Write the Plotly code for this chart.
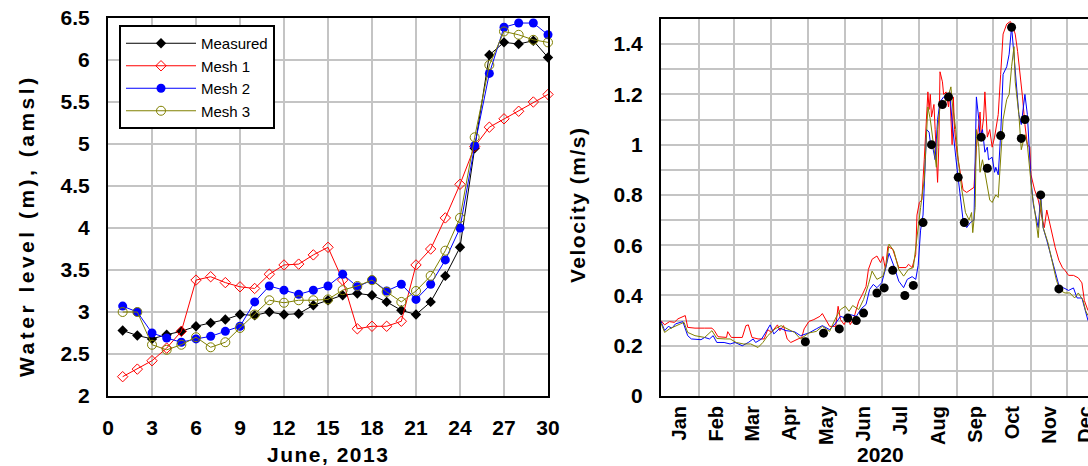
import pandas as pd
import plotly.graph_objects as go

# ---------------- Left panel: water level, June 2013 ----------------
june_days = list(range(1, 31))
measured_level = [2.78, 2.72, 2.68, 2.73, 2.77, 2.83, 2.87, 2.91, 2.97, 2.96,
                  3.00, 2.97, 2.98, 3.08, 3.14, 3.20, 3.22, 3.20, 3.12, 3.02,
                  2.97, 3.12, 3.43, 3.77, 4.95, 6.06, 6.21, 6.19, 6.23, 6.03]
mesh1_level = [2.23, 2.32, 2.42, 2.57, 2.77, 3.38, 3.42, 3.35, 3.30, 3.28,
               3.45, 3.56, 3.57, 3.68, 3.77, 3.38, 2.80, 2.83, 2.83, 2.89,
               3.56, 3.75, 4.12, 4.52, 4.97, 5.20, 5.30, 5.39, 5.50, 5.59]
mesh2_level = [3.07, 3.00, 2.75, 2.69, 2.64, 2.68, 2.71, 2.77, 2.83, 3.12,
               3.31, 3.26, 3.21, 3.26, 3.31, 3.45, 3.30, 3.38, 3.25, 3.33,
               3.15, 3.33, 3.62, 4.00, 4.98, 5.84, 6.39, 6.44, 6.44, 6.30]
mesh3_level = [3.00, 3.00, 2.61, 2.55, 2.61, 2.70, 2.58, 2.64, 2.81, 2.97,
               3.14, 3.11, 3.14, 3.14, 3.15, 3.26, 3.31, 3.38, 3.24, 3.12,
               3.25, 3.43, 3.73, 4.12, 5.08, 5.94, 6.34, 6.30, 6.24, 6.21]

# ---------------- Right panel: velocity, 2020 (day of year, m/s) ----------------
red_velocity = [
    (0, 0.30), (3, 0.283), (7, 0.296), (11, 0.293), (14, 0.307), (17, 0.313), (20, 0.32),
    (22, 0.273), (28, 0.27), (36, 0.27), (42, 0.27), (44, 0.26), (47, 0.236), (54, 0.233),
    (55, 0.256), (58, 0.233), (67, 0.233), (70, 0.28), (72, 0.283), (75, 0.233), (80, 0.227),
    (85, 0.227), (88, 0.264), (91, 0.253), (96, 0.283), (98, 0.26), (101, 0.28), (104, 0.227),
    (107, 0.213), (113, 0.227), (116, 0.233), (118, 0.267), (122, 0.297), (126, 0.304),
    (131, 0.317), (133, 0.328), (135, 0.311), (139, 0.277), (144, 0.277), (146, 0.357),
    (148, 0.304), (151, 0.284), (154, 0.317), (156, 0.284), (159, 0.311), (163, 0.377),
    (166, 0.404), (169, 0.435), (171, 0.504), (174, 0.544), (178, 0.557), (181, 0.531),
    (183, 0.555), (185, 0.504), (187, 0.595), (191, 0.584), (196, 0.511), (202, 0.511),
    (204, 0.524), (207, 0.511), (210, 0.564), (211, 0.72), (213, 0.77), (215, 0.78),
    (217, 0.94), (219, 1.14), (220, 1.21), (221, 1.14), (222, 1.20), (223, 1.11), (225, 1.16),
    (226, 1.06), (228, 0.85), (229, 0.99), (230, 1.29), (232, 1.25), (233, 1.20), (235, 1.21),
    (237, 1.15), (238, 1.21), (240, 1.00), (241, 1.19), (242, 1.06), (244, 0.97), (247, 0.87),
    (249, 0.82), (252, 0.81), (255, 0.82), (258, 0.83), (260, 0.99), (262, 1.07), (263, 1.13),
    (264, 1.03), (266, 1.11), (267, 1.21), (269, 1.03), (271, 1.06), (273, 0.99), (275, 1.03),
    (278, 1.12), (280, 1.28), (282, 1.44), (285, 1.48), (288, 1.49), (290, 1.47), (292, 1.44),
    (294, 1.37), (296, 1.29), (298, 1.19), (300, 1.08), (302, 1.00), (304, 0.99), (305, 0.88),
    (308, 0.82), (311, 0.78), (314, 0.71), (316, 0.67), (318, 0.74), (321, 0.67), (325, 0.59),
    (328, 0.54), (331, 0.51), (333, 0.50), (336, 0.48), (340, 0.48), (344, 0.47), (347, 0.45),
    (349, 0.38), (352, 0.34),
]
blue_velocity = [
    (0, 0.297), (3, 0.26), (6, 0.277), (9, 0.27), (12, 0.287), (16, 0.293), (18, 0.296),
    (22, 0.24), (25, 0.227), (33, 0.224), (36, 0.233), (40, 0.227), (43, 0.24), (46, 0.213),
    (52, 0.213), (57, 0.207), (61, 0.213), (67, 0.20), (72, 0.213), (76, 0.227), (78, 0.213),
    (83, 0.227), (87, 0.26), (90, 0.283), (93, 0.247), (98, 0.27), (103, 0.26), (110, 0.256),
    (115, 0.24), (118, 0.244), (122, 0.251), (128, 0.267), (133, 0.28), (139, 0.264),
    (144, 0.29), (148, 0.317), (152, 0.31), (156, 0.324), (161, 0.317), (165, 0.347),
    (169, 0.364), (172, 0.424), (175, 0.444), (178, 0.431), (182, 0.451), (185, 0.504),
    (188, 0.568), (192, 0.517), (196, 0.457), (200, 0.431), (203, 0.464), (207, 0.475),
    (210, 0.464), (212, 0.52), (214, 0.66), (216, 0.72), (218, 0.94), (219, 1.06), (221, 1.05),
    (222, 1.01), (224, 0.99), (225, 0.97), (226, 0.94), (228, 1.10), (230, 1.17), (233, 1.19),
    (236, 1.19), (238, 1.21), (240, 1.09), (243, 0.95), (245, 0.87), (247, 0.79), (249, 0.70),
    (252, 0.67), (255, 0.69), (258, 0.70), (259, 0.90), (260, 1.19), (262, 1.10), (263, 1.03),
    (265, 1.06), (267, 0.97), (269, 0.99), (270, 0.94), (273, 0.95), (275, 0.89), (276, 0.91),
    (278, 0.88), (280, 1.04), (282, 1.28), (285, 1.31), (287, 1.36), (289, 1.47), (291, 1.36),
    (293, 1.23), (295, 1.12), (297, 1.08), (300, 1.20), (302, 1.12), (303, 1.02), (305, 0.86),
    (307, 0.76), (310, 0.68), (311, 0.67), (313, 0.80), (315, 0.67), (318, 0.62), (322, 0.55),
    (325, 0.50), (328, 0.44), (332, 0.43), (336, 0.42), (340, 0.43), (343, 0.39), (347, 0.39),
    (350, 0.33), (352, 0.30),
]
olive_velocity = [
    (0, 0.29), (3, 0.253), (7, 0.267), (12, 0.28), (16, 0.287), (19, 0.293), (22, 0.253),
    (28, 0.24), (36, 0.233), (42, 0.26), (46, 0.229), (53, 0.227), (57, 0.227), (62, 0.213),
    (68, 0.207), (74, 0.207), (80, 0.193), (84, 0.213), (88, 0.24), (94, 0.267), (99, 0.28),
    (103, 0.27), (110, 0.253), (115, 0.227), (118, 0.237), (122, 0.251), (128, 0.257),
    (133, 0.277), (139, 0.257), (144, 0.31), (148, 0.344), (152, 0.357), (155, 0.337),
    (158, 0.36), (163, 0.344), (167, 0.384), (171, 0.444), (174, 0.497), (178, 0.464),
    (183, 0.477), (186, 0.531), (188, 0.604), (192, 0.577), (196, 0.504), (200, 0.477),
    (204, 0.504), (208, 0.511), (211, 0.637), (213, 0.72), (214, 0.75), (217, 0.86),
    (219, 1.03), (220, 1.15), (222, 1.10), (224, 1.03), (226, 0.95), (227, 0.91), (228, 1.06),
    (230, 1.15), (233, 1.17), (236, 1.18), (239, 1.23), (240, 1.17), (243, 1.06), (245, 0.94),
    (248, 0.82), (251, 0.73), (254, 0.70), (256, 0.73), (257, 0.65), (259, 0.75), (260, 1.06),
    (262, 0.99), (263, 0.89), (265, 0.94), (267, 0.89), (269, 0.83), (271, 0.78), (273, 0.77),
    (276, 0.80), (278, 0.79), (280, 0.96), (282, 1.10), (285, 1.18), (287, 1.20), (289, 1.31),
    (291, 1.39), (292, 1.25), (295, 1.12), (297, 0.98), (300, 1.04), (302, 1.00), (304, 0.90),
    (306, 0.80), (308, 0.74), (311, 0.63), (313, 0.78), (315, 0.67), (319, 0.61), (322, 0.55),
    (326, 0.46), (329, 0.42), (333, 0.41), (337, 0.41), (341, 0.39), (344, 0.41), (348, 0.38),
    (350, 0.34), (352, 0.32),
]
observed_velocity = [
    (119, 0.216), (134, 0.25), (147, 0.267), (154, 0.31), (161, 0.30), (167, 0.33),
    (178, 0.41), (184, 0.43), (191, 0.50), (201, 0.40), (208, 0.44), (216, 0.69),
    (223, 1.00), (232, 1.16), (237, 1.19), (245, 0.87), (250, 0.69), (264, 1.03),
    (269, 0.906), (280, 1.036), (289, 1.467), (297, 1.025), (300, 1.10), (313, 0.80),
    (328, 0.426),
]

YEAR_START = pd.Timestamp("2020-01-01")


def split(pairs):
    dates = [YEAR_START + pd.Timedelta(days=d) for d, _ in pairs]
    vals = [v for _, v in pairs]
    return dates, vals


FONT = "Liberation Sans, Arial, Helvetica, sans-serif"
GRID = "#c4c4c4"
OLIVE = "#808000"
W, H = 1088, 466

fig = go.Figure()

# left panel traces
fig.add_trace(go.Scatter(
    x=june_days, y=measured_level, name="Measured", mode="lines+markers",
    line=dict(color="black", width=1),
    marker=dict(symbol="diamond", size=8, color="black"),
    cliponaxis=False, xaxis="x", yaxis="y"))
fig.add_trace(go.Scatter(
    x=june_days, y=mesh1_level, name="Mesh 1", mode="lines+markers",
    line=dict(color="red", width=1),
    marker=dict(symbol="diamond-open", size=8, color="red", line=dict(width=1)),
    cliponaxis=False, xaxis="x", yaxis="y"))
fig.add_trace(go.Scatter(
    x=june_days, y=mesh2_level, name="Mesh 2", mode="lines+markers",
    line=dict(color="blue", width=1),
    marker=dict(symbol="circle", size=9, color="blue"),
    cliponaxis=False, xaxis="x", yaxis="y"))
fig.add_trace(go.Scatter(
    x=june_days, y=mesh3_level, name="Mesh 3", mode="lines+markers",
    line=dict(color=OLIVE, width=1),
    marker=dict(symbol="circle-open", size=9, color=OLIVE, line=dict(width=1)),
    cliponaxis=False, xaxis="x", yaxis="y"))

# right panel traces
for pairs, colour in ((red_velocity, "red"), (blue_velocity, "blue"), (olive_velocity, OLIVE)):
    d, v = split(pairs)
    fig.add_trace(go.Scatter(x=d, y=v, mode="lines", line=dict(color=colour, width=1),
                             showlegend=False, xaxis="x2", yaxis="y2"))
d, v = split(observed_velocity)
fig.add_trace(go.Scatter(x=d, y=v, mode="markers",
                         marker=dict(symbol="circle", size=9, color="black"),
                         showlegend=False, xaxis="x2", yaxis="y2"))

tick_font = dict(family=FONT, size=21, color="black", weight="bold")
title_font = dict(family=FONT, size=21, color="black", weight="bold")

common = dict(showline=True, linecolor="black", linewidth=2, mirror=True,
              showgrid=True, gridcolor=GRID, gridwidth=2, zeroline=False,
              ticks="", tickfont=tick_font, automargin=False)

fig.update_layout(
    width=W, height=H,
    margin=dict(l=0, r=0, t=0, b=0),
    paper_bgcolor="white", plot_bgcolor="white",
    font=dict(family=FONT, color="black"),
    xaxis=dict(common, domain=[108 / W, 548 / W], range=[0, 30], dtick=3, tick0=0,
               ticklabelstandoff=12, anchor="y"),
    yaxis=dict(common, domain=[1 - 396 / H, 1 - 18 / H], range=[2, 6.5], dtick=0.5,
               ticklabelstandoff=12, anchor="x"),
    xaxis2=dict(common, domain=[661 / W, 1.0], type="date",
                range=["2020-01-01", "2020-12-18"], dtick="M1", tick0="2020-01-01",
                ticklabelmode="period", tickformat="%b", tickangle=-90,
                ticklabeloverflow="allow",
                tickfont=dict(family=FONT, size=20, color="black", weight="bold"),
                ticklabelstandoff=0, anchor="y2"),
    yaxis2=dict(common, domain=[1 - 396 / H, 1 - 19 / H], range=[0, 1.5], dtick=0.2,
                anchor="x2", mirror=False, ticklabelstandoff=12,
                minor=dict(dtick=0.1, showgrid=True, gridcolor=GRID, gridwidth=2)),
    legend=dict(x=119 / W, y=1 - 25 / H, xanchor="left", yanchor="top",
                bgcolor="white", bordercolor="black", borderwidth=2,
                font=dict(family=FONT, size=15, color="black"),
                itemwidth=70, tracegroupgap=0),
)

# axis titles
titles = [
    ('<span style="letter-spacing:3.5px">Water level (m), (amsl)</span>', 26, 226, -90),
    ('<span style="letter-spacing:1.5px">June, 2013</span>', 328, 454, 0),
    ('<span style="letter-spacing:1.5px">Velocity (m/s)</span>', 577, 205, -90),
    ("2020", 880, 454, 0),
]
for text, px, py, ang in titles:
    fig.add_annotation(text=text, xref="paper", yref="paper", x=px / W, y=1 - py / H,
                       xanchor="center", yanchor="middle", textangle=ang, showarrow=False,
                       font=title_font)

fig.write_html("out.html")
